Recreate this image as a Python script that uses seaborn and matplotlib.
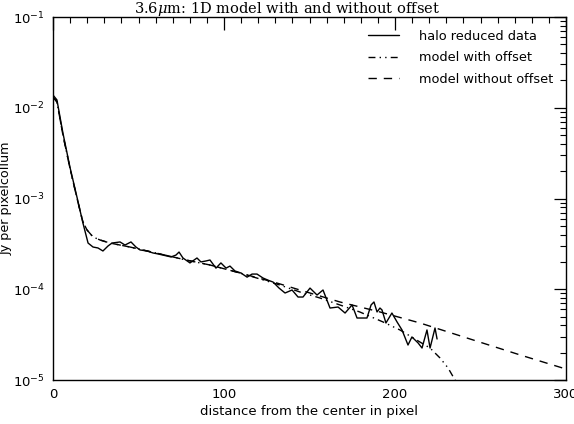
import matplotlib
matplotlib.use("Agg")
import matplotlib.pyplot as plt
import seaborn as sns
import numpy as np
from matplotlib.ticker import MultipleLocator, LogLocator, NullFormatter

# ---- data ----
data_x = [0, 2.3, 5.8, 9.9, 14.0, 17.5, 20.5, 23.4, 26.3, 29.2, 32.2, 34.5, 39.2, 42.1, 45.6,
          48.5, 50.9, 55.0, 58.5, 61.4, 64.3, 69.0, 71.9, 73.7, 76.0, 80.1, 84.2, 86.5, 89.5,
          91.8, 95.3, 98.2, 101.2, 103.5, 106.4, 109.9, 113.5, 116.4, 119.3, 122.8, 125.7,
          128.7, 132.2, 135.7, 139.8, 143.3, 146.2, 150.3, 154.4, 157.9, 162.0, 166.7, 170.8,
          174.9, 177.8, 180.7, 183.6, 186.0, 187.7, 189.5, 191.2, 192.4, 194.7, 198.2, 201.2,
          204.1, 207.6, 209.9, 213.5, 215.8, 218.7, 220.5, 223.4, 224.6]
data_y = [1.38e-2, 1.22e-2, 5.27e-3, 2.22e-3, 1.04e-3, 5.37e-4, 3.23e-4, 2.92e-4, 2.85e-4,
          2.64e-4, 3.00e-4, 3.23e-4, 3.32e-4, 3.07e-4, 3.32e-4, 2.92e-4, 2.71e-4, 2.64e-4,
          2.51e-4, 2.45e-4, 2.38e-4, 2.27e-4, 2.38e-4, 2.57e-4, 2.21e-4, 1.95e-4, 2.21e-4,
          2.00e-4, 2.05e-4, 2.10e-4, 1.71e-4, 1.95e-4, 1.71e-4, 1.80e-4, 1.59e-4, 1.51e-4,
          1.36e-4, 1.47e-4, 1.47e-4, 1.33e-4, 1.26e-4, 1.20e-4, 1.03e-4, 9.09e-5, 9.81e-5,
          8.21e-5, 8.21e-5, 1.03e-4, 8.64e-5, 9.81e-5, 6.21e-5, 6.37e-5, 5.47e-5, 6.71e-5,
          4.82e-5, 4.82e-5, 4.82e-5, 6.71e-5, 7.24e-5, 5.62e-5, 6.21e-5, 5.91e-5, 4.25e-5,
          5.47e-5, 4.36e-5, 3.56e-5, 2.43e-5, 2.98e-5, 2.56e-5, 2.25e-5, 3.56e-5, 2.25e-5,
          3.74e-5, 2.83e-5]

nooff_x = [0, 2.3, 5.8, 9.9, 14.0, 17.5, 19.9, 23.4, 27.5, 33.3, 45.0, 62.6, 77.8, 91.8,
           109.4, 131.0, 144.4, 167.8, 191.2, 214.6, 243.9, 273.1, 300.0]
nooff_y = [1.31e-2, 1.16e-2, 5.01e-3, 2.17e-3, 1.01e-3, 5.51e-4, 4.50e-4, 3.77e-4, 3.49e-4,
           3.23e-4, 2.92e-4, 2.45e-4, 2.10e-4, 1.85e-4, 1.51e-4, 1.17e-4, 9.81e-5, 7.24e-5,
           5.62e-5, 4.25e-5, 2.83e-5, 1.89e-5, 1.32e-5]

off_x = [0, 2.3, 5.8, 9.9, 14.0, 17.5, 19.9, 23.4, 27.5, 33.3, 45.0, 62.6, 77.8, 91.8,
         109.4, 131.0, 144.4, 156.1, 167.8, 179.5, 193.0, 202.9, 214.6, 220.5, 226.3, 231.0,
         235.1, 238.0]
off_y = [1.31e-2, 1.16e-2, 5.01e-3, 2.17e-3, 1.01e-3, 5.51e-4, 4.50e-4, 3.77e-4, 3.49e-4,
         3.23e-4, 2.92e-4, 2.45e-4, 2.10e-4, 1.85e-4, 1.51e-4, 1.14e-4, 9.33e-5, 8.01e-5,
         6.71e-5, 5.61e-5, 4.36e-5, 3.56e-5, 2.62e-5, 2.25e-5, 1.75e-5, 1.36e-5, 1.0e-5, 8.0e-6]

title = r"3.6$\mu$m: 1D model with and without offset"
xlabel = "distance from the center in pixel"
ylabel = "Jy per pixelcollum"
labels = ["halo reduced data", "model with offset", "model without offset"]

# ---- plot ----
sns.set_theme(style="white")
plt.rcParams["font.family"] = ["DejaVu Sans"]
plt.rcParams["mathtext.fontset"] = "custom"
plt.rcParams["mathtext.rm"] = "DejaVu Sans"
plt.rcParams["mathtext.it"] = "DejaVu Serif:italic"
plt.rcParams["mathtext.default"] = "it"

fig = plt.figure(figsize=(5.74, 4.24), dpi=100)
ax = fig.add_axes([53/574, 1-380/424, (566-53)/574, (380-17)/424])

sns.lineplot(x=data_x, y=data_y, ax=ax, color="black", lw=1.0, sort=False,
             estimator=None, label=labels[0])
sns.lineplot(x=off_x, y=off_y, ax=ax, color="black", lw=1.0, sort=False,
             estimator=None, label=labels[1])
sns.lineplot(x=nooff_x, y=nooff_y, ax=ax, color="black", lw=1.0, sort=False,
             estimator=None, label=labels[2])
lines = ax.get_lines()
lines[1].set_dashes([5, 3, 1, 3, 1, 3])
lines[2].set_dashes([6, 5])

ax.set_yscale("log")
ax.set_xlim(0, 300)
ax.set_ylim(1e-5, 1e-1)

ax.xaxis.set_major_locator(MultipleLocator(100))
ax.xaxis.set_minor_locator(MultipleLocator(10))
ax.yaxis.set_major_locator(LogLocator(base=10, numticks=10))
ax.yaxis.set_minor_locator(LogLocator(base=10, subs=np.arange(2, 10), numticks=20))
ax.yaxis.set_minor_formatter(NullFormatter())
ax.tick_params(which="both", direction="in", top=True, right=True, color="black",
               labelsize=9.5, labelcolor="black")
ax.tick_params(which="major", length=9, width=0.9, pad=6)
ax.tick_params(which="minor", length=4.5, width=0.8)
for s in ax.spines.values():
    s.set_color("black")
    s.set_linewidth(1.0)

ax.set_xlabel(xlabel, fontsize=9.5, color="black", labelpad=3)
ax.set_ylabel(ylabel, fontsize=9.2, color="black")
ax.yaxis.set_label_coords(-0.0795, 0.5)
fig.text(0.5, 1.0, title, ha="center", va="top", fontsize=10.5,
         family="DejaVu Serif", color="black")

leg = ax.legend(loc="upper right", frameon=False, fontsize=9.3, handlelength=2.4,
                handletextpad=1.5, labelspacing=0.65, borderaxespad=0.5,
                borderpad=0.5)
for t in leg.get_texts():
    t.set_color("black")

fig.savefig("out.png", dpi=100)
